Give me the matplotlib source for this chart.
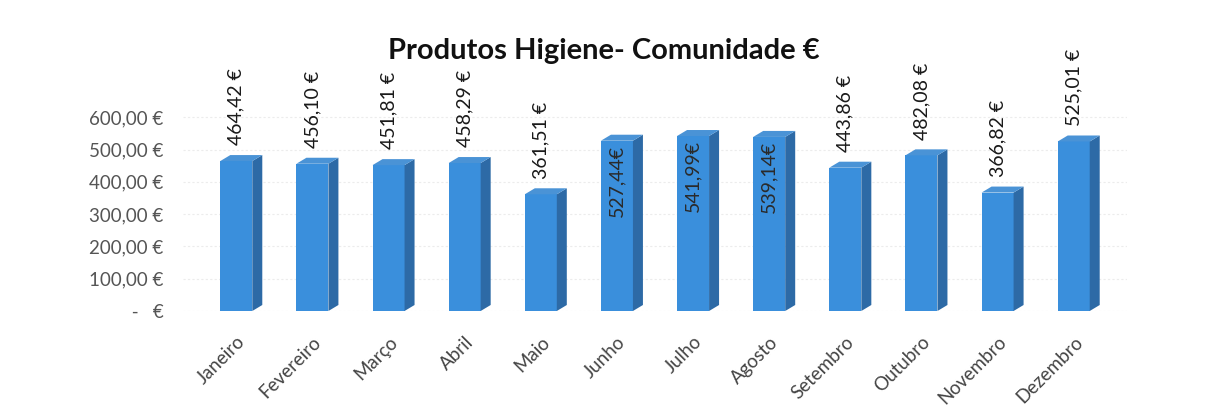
import matplotlib
matplotlib.use("Agg")
import matplotlib.pyplot as plt
from matplotlib.patches import Polygon
import numpy as np

months = ["Janeiro", "Fevereiro", "Março", "Abril", "Maio", "Junho",
          "Julho", "Agosto", "Setembro", "Outubro", "Novembro", "Dezembro"]
values = [464.42, 456.10, 451.81, 458.29, 361.51, 527.44,
          541.99, 539.14, 443.86, 482.08, 366.82, 525.01]
value_labels = ["464,42 €", "456,10 €", "451,81 €", "458,29 €", "361,51 €", "527,44€",
                "541,99€", "539,14€", "443,86 €", "482,08 €", "366,82 €", "525,01 €"]
inside_label = [False, False, False, False, False, True,
                True, True, False, False, False, False]
yticks = [0, 100, 200, 300, 400, 500, 600]
ytick_labels = [" -   €", "100,00 €", "200,00 €", "300,00 €", "400,00 €", "500,00 €", "600,00 €"]
title = "Produtos Higiene- Comunidade €"

plt.rcParams['font.family'] = ['Lato', 'DejaVu Sans']

W, H = 1208, 416
fig = plt.figure(figsize=(W / 100, H / 100), dpi=100)
fig.patch.set_facecolor("white")

left_px, right_px = 183, 1127
bottom_px, top_px = 311, 85
ax = fig.add_axes([left_px / W, 1 - bottom_px / H,
                   (right_px - left_px) / W, (bottom_px - top_px) / H])
xlim = (-0.7, 11.7)
ylim = (0, 700)
ax.set_xlim(*xlim)
ax.set_ylim(*ylim)

px_per_x = (right_px - left_px) / (xlim[1] - xlim[0])
px_per_y = (bottom_px - top_px) / (ylim[1] - ylim[0])
dx = 10 / px_per_x
dy = 6 / px_per_y
w = 32 / px_per_x

front = "#3a8fdc"
side = "#2d6aa6"
topc = "#4a93d6"

# faint gridlines
for t in yticks:
    ax.axhline(t, color="#ececec", lw=0.8, ls=(0, (2, 2)), zorder=0)

x = np.arange(len(months))
ax.bar(x, values, width=w, color=front, zorder=2, linewidth=0)
for xi, v in zip(x, values):
    sidep = Polygon([(xi + w / 2, 0), (xi + w / 2 + dx, dy),
                     (xi + w / 2 + dx, v + dy), (xi + w / 2, v)],
                    closed=True, facecolor=side, edgecolor="none", zorder=2)
    topp = Polygon([(xi - w / 2, v), (xi - w / 2 + dx, v + dy),
                    (xi + w / 2 + dx, v + dy), (xi + w / 2, v)],
                   closed=True, facecolor=topc, edgecolor="none", zorder=2)
    ax.add_patch(sidep)
    ax.add_patch(topp)

for xi, v, lab, ins in zip(x, values, value_labels, inside_label):
    if ins:
        ax.annotate(lab, (xi, v), xytext=(0, -3), textcoords="offset points",
                    rotation=90, ha="center", va="top", fontsize=14,
                    color="#2a2a2a", zorder=5, annotation_clip=False)
    else:
        ax.annotate(lab, (xi, v + dy), xytext=(0, 7), textcoords="offset points",
                    rotation=90, ha="center", va="bottom", fontsize=14,
                    color="#1a1a1a", zorder=5, annotation_clip=False)

ax.set_yticks(yticks)
ax.set_yticklabels(ytick_labels, fontsize=13.5, color="#555555")
ax.set_xticks(x)
ax.set_xticklabels(months, rotation=45, ha="right", rotation_mode="anchor",
                   fontsize=13.5, color="#444444")
ax.tick_params(axis="both", length=0)
ax.tick_params(axis="x", pad=16)
ax.tick_params(axis="y", pad=14)
for s in ax.spines.values():
    s.set_visible(False)

fig.text(604 / W, 1 - 51 / H, title, ha="center", va="center",
         fontsize=21, fontweight="bold", color="#111111")

fig.savefig("out.png", dpi=100, facecolor="white")
